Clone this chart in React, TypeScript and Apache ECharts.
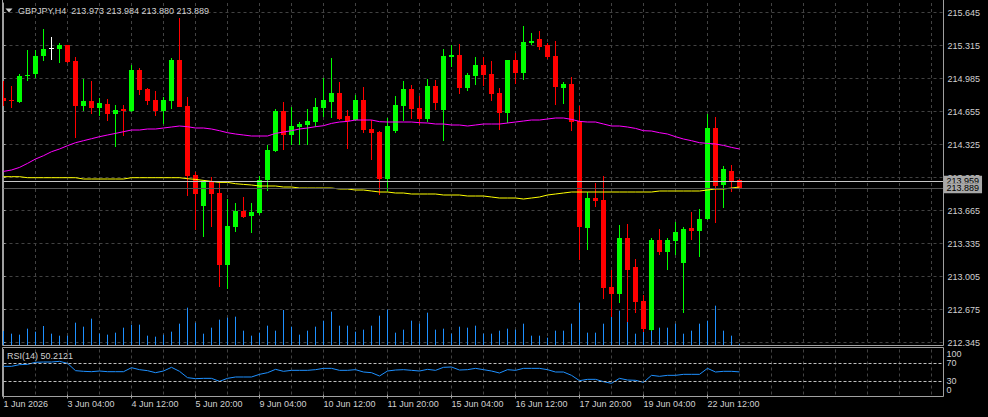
import React, { useEffect, useRef } from 'react';
import * as echarts from 'echarts';

const symbolTitle = 'GBPJPY,H4';

const opens = [
  214.795, 214.775, 214.755, 215.008, 215.028, 215.208, 215.292, 215.285, 215.325, 215.165,
  214.708, 214.765, 214.695, 214.735, 214.635, 214.685, 214.665, 215.075, 214.885, 214.775,
  214.665, 214.765, 215.175, 214.715, 214.025, 213.715, 213.965, 213.845, 213.125, 213.505,
  213.665, 213.615, 213.645, 213.975, 214.265, 214.665, 214.425, 214.505, 214.525, 214.555,
  214.695, 214.755, 214.845, 214.615, 214.575, 214.775, 214.485, 214.455, 213.985, 214.465,
  214.715, 214.885, 214.695, 214.585, 214.915, 214.675, 215.205, 215.225, 214.895, 215.015,
  215.125, 215.035, 214.845, 214.645, 215.175, 215.045, 215.345, 215.385, 215.325, 215.215,
  214.895, 214.935, 214.565, 213.495, 213.795, 213.775, 212.905, 212.835, 213.395, 213.105,
  212.765, 212.475, 213.375, 213.255, 213.365, 213.145, 213.495, 213.465, 213.585, 214.495,
  213.925, 214.065, 213.973,
];
const highs = [
  214.965, 214.915, 215.032, 215.275, 215.272, 215.485, 215.405, 215.345, 215.325, 215.205,
  214.985, 214.965, 214.795, 214.785, 214.725, 214.725, 215.125, 215.095, 214.895, 214.865,
  214.805, 215.195, 215.592, 214.805, 214.055, 213.975, 214.005, 213.955, 213.785, 213.745,
  213.805, 213.745, 214.015, 214.325, 214.685, 214.755, 214.705, 214.555, 214.685, 214.795,
  214.995, 215.195, 214.955, 214.675, 214.825, 214.905, 214.575, 214.465, 214.595, 214.815,
  214.965, 214.925, 214.815, 214.985, 214.975, 215.285, 215.325, 215.335, 215.045, 215.205,
  215.205, 215.165, 214.895, 215.175, 215.245, 215.515, 215.445, 215.465, 215.345, 215.365,
  214.955, 215.005, 214.715, 213.855, 213.945, 214.015, 213.075, 213.525, 213.535, 213.185,
  212.825, 213.395, 213.485, 213.395, 213.555, 213.505, 213.655, 213.685, 214.635, 214.605,
  214.115, 214.125, 213.984,
];
const lows = [
  214.715, 214.688, 214.745, 214.965, 214.988, 215.158, 215.175, 215.145, 215.138, 214.388,
  214.665, 214.628, 214.615, 214.565, 214.305, 214.415, 214.655, 214.825, 214.725, 214.615,
  214.535, 214.685, 214.705, 213.815, 213.475, 213.405, 213.505, 212.905, 212.885, 213.455,
  213.595, 213.445, 213.625, 213.865, 214.255, 214.275, 214.325, 214.325, 214.325, 214.505,
  214.605, 214.595, 214.575, 214.285, 214.565, 214.445, 214.175, 213.825, 213.865, 214.445,
  214.565, 214.585, 214.525, 214.555, 214.675, 214.365, 215.105, 214.835, 214.865, 214.925,
  214.915, 214.765, 214.475, 214.545, 214.935, 214.975, 215.325, 215.275, 215.185, 214.725,
  214.735, 214.465, 213.175, 213.275, 213.705, 212.785, 212.605, 212.745, 212.555, 212.645,
  212.455, 212.465, 213.225, 213.075, 213.225, 212.645, 213.375, 213.205, 213.575, 213.545,
  213.695, 213.855, 213.880,
];
const closes = [
  214.765, 214.758, 215.015, 215.025, 215.215, 215.285, 215.292, 215.325, 215.155, 214.708,
  214.765, 214.695, 214.745, 214.635, 214.675, 214.665, 215.075, 214.875, 214.765, 214.665,
  214.775, 215.175, 214.705, 214.015, 213.835, 213.965, 213.835, 213.125, 213.515, 213.665,
  213.605, 213.655, 213.975, 214.275, 214.665, 214.425, 214.515, 214.535, 214.565, 214.705,
  214.775, 214.845, 214.585, 214.565, 214.775, 214.475, 214.445, 213.985, 214.515, 214.725,
  214.885, 214.685, 214.585, 214.915, 214.745, 215.215, 215.225, 214.895, 215.025, 215.125,
  215.025, 214.835, 214.645, 215.175, 215.045, 215.355, 215.365, 215.305, 215.205, 214.905,
  214.935, 214.555, 213.505, 213.795, 213.765, 212.895, 212.835, 213.395, 213.075, 212.755,
  212.485, 213.375, 213.255, 213.375, 213.455, 213.485, 213.465, 213.585, 214.495, 213.915,
  214.085, 213.965, 213.889,
];
const volumes = [
  420, 340, 310, 490, 400, 570, 340, 280, 280, 670,
  550, 790, 340, 310, 370, 520, 610, 610, 280, 250,
  310, 400, 640, 1120, 670, 340, 520, 760, 820, 850,
  430, 280, 370, 580, 430, 1050, 550, 310, 430, 550,
  730, 1000, 580, 580, 400, 460, 580, 880, 1060, 370,
  460, 730, 640, 970, 460, 490, 340, 550, 520, 580,
  340, 340, 430, 490, 460, 640, 280, 280, 220, 430,
  430, 640, 1270, 370, 370, 640, 880, 1030, 730, 340,
  430, 640, 520, 520, 640, 340, 430, 640, 730, 1180,
  430, 280, 40,
];
const maFast = [
  214.058, 214.072, 214.098, 214.138, 214.182, 214.215, 214.255, 214.282, 214.315, 214.345,
  214.365, 214.385, 214.405, 214.422, 214.438, 214.455, 214.472, 214.472, 214.482, 214.482,
  214.492, 214.502, 214.512, 214.505, 214.492, 214.492, 214.482, 214.465, 214.445, 214.432,
  214.422, 214.412, 214.412, 214.412, 214.438, 214.452, 214.465, 214.482, 214.492, 214.505,
  214.515, 214.538, 214.552, 214.558, 214.572, 214.572, 214.572, 214.555, 214.552, 214.552,
  214.552, 214.552, 214.545, 214.542, 214.532, 214.532, 214.522, 214.522, 214.512, 214.522,
  214.532, 214.532, 214.532, 214.542, 214.552, 214.562, 214.572, 214.572, 214.582, 214.592,
  214.592, 214.578, 214.558, 214.552, 214.552, 214.532, 214.512, 214.512, 214.502, 214.488,
  214.465, 214.462, 214.445, 214.432, 214.405, 214.382, 214.365, 214.345, 214.338, 214.332,
  214.318, 214.298, 214.282,
];
const maSlow = [
  214.005, 214.005, 214.005, 213.995, 213.995, 213.995, 213.995, 213.995, 213.995, 213.995,
  213.982, 213.982, 213.982, 213.982, 213.982, 213.982, 213.995, 213.995, 213.995, 213.995,
  213.995, 213.995, 213.995, 213.985, 213.978, 213.968, 213.958, 213.948, 213.948, 213.935,
  213.928, 213.922, 213.912, 213.912, 213.912, 213.902, 213.902, 213.892, 213.892, 213.892,
  213.892, 213.892, 213.882, 213.882, 213.872, 213.872, 213.862, 213.852, 213.852, 213.842,
  213.842, 213.832, 213.832, 213.832, 213.832, 213.822, 213.822, 213.822, 213.812, 213.812,
  213.812, 213.802, 213.792, 213.792, 213.792, 213.782, 213.792, 213.802, 213.822, 213.832,
  213.842, 213.852, 213.852, 213.852, 213.852, 213.852, 213.852, 213.852, 213.852, 213.852,
  213.852, 213.852, 213.862, 213.862, 213.862, 213.862, 213.862, 213.862, 213.872, 213.882,
  213.882, 213.892, 213.902,
];
const rsiValues = [
  62.6, 62.6, 66.3, 67.0, 71.5, 72.2, 72.2, 73.7, 69.3, 53.0,
  51.5, 50.7, 52.2, 50.7, 50.7, 50.7, 59.6, 55.2, 53.0, 48.5,
  52.2, 60.4, 51.5, 37.4, 35.2, 35.9, 35.9, 29.3, 35.9, 38.9,
  38.9, 38.9, 44.8, 48.5, 55.9, 51.5, 53.7, 53.7, 53.7, 55.2,
  58.1, 58.1, 53.7, 53.7, 55.2, 50.0, 48.5, 41.1, 52.2, 54.4,
  55.2, 53.7, 52.2, 55.9, 53.7, 60.4, 61.1, 54.4, 55.2, 58.1,
  55.2, 52.2, 47.8, 55.2, 53.7, 58.1, 58.1, 58.1, 55.2, 50.0,
  50.0, 42.6, 30.7, 33.7, 33.7, 28.5, 24.8, 35.9, 32.2, 31.5,
  27.0, 42.6, 40.4, 42.6, 42.6, 44.8, 44.8, 44.8, 58.1, 50.0,
  51.5, 51.5, 50.2121,
];
const xLabels = [
  '1 Jun 2026', '3 Jun 04:00', '4 Jun 12:00', '5 Jun 20:00', '9 Jun 04:00', '10 Jun 12:00',
  '11 Jun 20:00', '15 Jun 04:00', '16 Jun 12:00', '17 Jun 20:00', '19 Jun 04:00', '22 Jun 12:00',
];
const priceTicks = [212.345, 212.675, 213.005, 213.335, 213.665, 213.995, 214.325, 214.655, 214.985, 215.315, 215.645];
const rsiMidTicks = [30, 70];
const rsiMin = 0;
const rsiMax = 100;
const rsiLevels = [30, 70];
const bidPrice = 213.889;
const askPrice = 213.959;
const barsPerLabel = 8;

const FONT = '"Liberation Sans", Arial, sans-serif';
const TXT = '#d0d0d0';
const GRID = '#424242';
const FRAME = '#a0a0a0';

export default function App() {
  const ref = useRef<HTMLDivElement>(null);
  useEffect(() => {
    document.body.style.margin = '0';
    document.body.style.background = '#000';
    const chart = echarts.init(ref.current!, null, { renderer: 'svg' });
    const n = closes.length;
    const candleData = closes.map((c, k) => [k, opens[k], highs[k], lows[k], c]);
    const volData = volumes.map((v, k) => [k, v]);
    const xMax = 117.5;
    const last = n - 1;

    const priceBoxLabel = (padding: number[]) => ({
      show: true, position: 'end', distance: 0, color: '#000', backgroundColor: '#a8a8a8',
      padding, lineHeight: 8, fontSize: 9, fontFamily: FONT, formatter: '{b}',
    });

    const rsiLabelAxis = (values: number[], verticalAlign: string, withLine: boolean) => ({
      type: 'value', gridIndex: 1, position: 'right', min: rsiMin, max: rsiMax,
      axisLine: { show: withLine, lineStyle: { color: FRAME } },
      axisTick: { show: withLine, length: 2, lineStyle: { color: FRAME }, customValues: values },
      axisLabel: {
        show: true, customValues: values, margin: 3, color: TXT, fontSize: 9, fontFamily: FONT,
        hideOverlap: false, showMinLabel: true, showMaxLabel: true, verticalAlign,
        formatter: (v: number) => String(v),
      },
      splitLine: { show: false },
    });

    const option: any = {
      animation: false,
      backgroundColor: '#000',
      grid: [
        { left: 3.5, top: 3, width: 940, height: 342, outerBoundsMode: 'none' },
        { left: 3.5, top: 349.5, width: 940, height: 45, outerBoundsMode: 'none' },
      ],
      xAxis: [
        {
          type: 'value', gridIndex: 0, min: 0, max: xMax, interval: 4,
          axisLine: { show: false }, axisTick: { show: false }, axisLabel: { show: false },
          splitLine: { show: true, lineStyle: { color: GRID, type: [3, 3], width: 1 } },
        },
        {
          type: 'value', gridIndex: 1, min: 0, max: xMax, interval: 4,
          axisLine: { show: false }, axisTick: { show: false }, axisLabel: { show: false },
          splitLine: { show: true, lineStyle: { color: GRID, type: [3, 3], width: 1 } },
        },
        {
          type: 'value', gridIndex: 1, min: 0, max: xMax, position: 'bottom', offset: 2,
          axisLine: { show: false },
          axisTick: { show: true, length: 4, lineStyle: { color: FRAME }, customValues: xLabels.map((_, i) => i * barsPerLabel) },
          axisLabel: {
            show: true, customValues: xLabels.map((_, i) => i * barsPerLabel), align: 'left', margin: 3,
            color: TXT, fontSize: 9, fontFamily: FONT, hideOverlap: false,
            formatter: (v: number) => xLabels[Math.round(v / barsPerLabel)] ?? '',
          },
          splitLine: { show: false },
        },
      ],
      yAxis: [
        {
          type: 'value', gridIndex: 0, position: 'right', min: 212.322, max: 215.742, scale: true,
          axisLine: { show: true, lineStyle: { color: FRAME } },
          axisTick: { show: true, length: 2, lineStyle: { color: FRAME }, customValues: priceTicks },
          axisLabel: {
            show: true, customValues: priceTicks, margin: 4, color: TXT, fontSize: 9, fontFamily: FONT,
            formatter: (v: number) => v.toFixed(3), hideOverlap: false,
          },
          splitLine: { show: true, lineStyle: { color: GRID, type: [3, 3], width: 1 } },
        },
        { type: 'value', gridIndex: 0, min: 0, max: 10260, show: false, splitLine: { show: false } },
        rsiLabelAxis(rsiMidTicks, 'middle', true),
        rsiLabelAxis([rsiMax], 'top', false),
        rsiLabelAxis([rsiMin], 'bottom', false),
      ],
      series: [
        {
          type: 'custom', name: 'volume', xAxisIndex: 0, yAxisIndex: 1, z: 1, clip: true,
          data: volData, encode: { x: 0, y: 1 },
          renderItem: (_p: any, api: any) => {
            const k = api.value(0);
            const a = api.coord([k, 0]);
            const b = api.coord([k, api.value(1)]);
            return { type: 'line', shape: { x1: a[0], y1: a[1], x2: b[0], y2: b[1] }, style: { stroke: '#1e90ff', lineWidth: 1 } };
          },
        },
        {
          type: 'line', name: 'bidask', xAxisIndex: 0, yAxisIndex: 0, z: 1,
          data: closes.map((c, k) => [k, c]), showSymbol: false, silent: true,
          lineStyle: { width: 0, opacity: 0 },
          markLine: {
            silent: true, symbol: ['none', 'none'], animation: false,
            data: [
              {
                yAxis: askPrice, name: askPrice.toFixed(3),
                lineStyle: { color: '#c8c8c8', type: 'solid', width: 1 },
                label: priceBoxLabel([0, 3, 3, 3]),
              },
              {
                yAxis: bidPrice, name: bidPrice.toFixed(3),
                lineStyle: { color: '#555555', type: 'solid', width: 1 },
                label: priceBoxLabel([1, 3, 1, 3]),
              },
            ],
          },
        },
        {
          type: 'custom', name: 'candles', xAxisIndex: 0, yAxisIndex: 0, z: 3, clip: true,
          data: candleData, encode: { x: 0, y: [1, 2, 3, 4] },
          renderItem: (_p: any, api: any) => {
            const k = api.value(0);
            const o = api.value(1), h = api.value(2), l = api.value(3), c = api.value(4);
            const pO = api.coord([k, o]);
            const pC = api.coord([k, c]);
            const pH = api.coord([k, h]);
            const pL = api.coord([k, l]);
            const x = pO[0];
            const color = c > o ? '#00ff00' : c < o ? '#ff0000' : '#ffffff';
            const top = Math.round(Math.min(pO[1], pC[1]));
            const bot = Math.round(Math.max(pO[1], pC[1]));
            return {
              type: 'group',
              children: [
                { type: 'line', shape: { x1: x, y1: Math.round(pH[1]), x2: x, y2: Math.round(pL[1]) }, style: { stroke: color, lineWidth: 1 } },
                { type: 'rect', shape: { x: x - 2.5, y: top, width: 5, height: Math.max(bot - top, 1) }, style: { fill: color } },
              ],
            };
          },
        },
        {
          type: 'line', name: 'MA fast', xAxisIndex: 0, yAxisIndex: 0, z: 4,
          data: maFast.map((v, k) => [k, v]), showSymbol: false, silent: true,
          lineStyle: { color: '#ff00ff', width: 1 },
        },
        {
          type: 'line', name: 'MA slow', xAxisIndex: 0, yAxisIndex: 0, z: 4,
          data: maSlow.map((v, k) => [k, v]), showSymbol: false, silent: true,
          lineStyle: { color: '#ffff00', width: 1 },
        },
        {
          type: 'line', name: 'RSI', xAxisIndex: 1, yAxisIndex: 2, z: 4,
          data: rsiValues.map((v, k) => [k, v]), showSymbol: false, silent: true,
          lineStyle: { color: '#1e90ff', width: 1 },
          markLine: {
            silent: true, symbol: ['none', 'none'], animation: false,
            label: { show: false },
            lineStyle: { color: '#c0c0c0', type: [3, 2], width: 1 },
            data: rsiLevels.map((v) => ({ yAxis: v })),
          },
        },
      ],
      graphic: [
        {
          type: 'polyline', z: 20, silent: true,
          shape: { points: [[2.5, 0], [2.5, 345.5], [943.5, 345.5], [943.5, 0]] },
          style: { stroke: FRAME, fill: 'none', lineWidth: 1 },
        },
        {
          type: 'rect', z: 20, silent: true,
          shape: { x: 2.5, y: 347.5, width: 941, height: 49 },
          style: { stroke: FRAME, fill: 'none', lineWidth: 1 },
        },
        {
          type: 'polygon', z: 20, silent: true,
          shape: { points: [[5.5, 8.5], [12.5, 8.5], [9, 12.5]] },
          style: { fill: TXT },
        },
        {
          type: 'text', z: 20, silent: true, x: 18, y: 11,
          style: {
            text: `${symbolTitle}  ${opens[last].toFixed(3)} ${highs[last].toFixed(3)} ${lows[last].toFixed(3)} ${closes[last].toFixed(3)}`,
            fill: TXT, font: `9px ${FONT}`, verticalAlign: 'middle', textVerticalAlign: 'middle',
          },
        },
        {
          type: 'text', z: 20, silent: true, x: 7, y: 356,
          style: {
            text: `RSI(14) ${rsiValues[last].toFixed(4)}`,
            fill: TXT, font: `9px ${FONT}`, verticalAlign: 'middle', textVerticalAlign: 'middle',
          },
        },
      ],
    };
    chart.setOption(option);
    return () => chart.dispose();
  }, []);
  return (
    <div
      ref={ref}
      style={{ position: 'absolute', left: 0, top: 0, width: 988, height: 417, background: '#000' }}
    />
  );
}
